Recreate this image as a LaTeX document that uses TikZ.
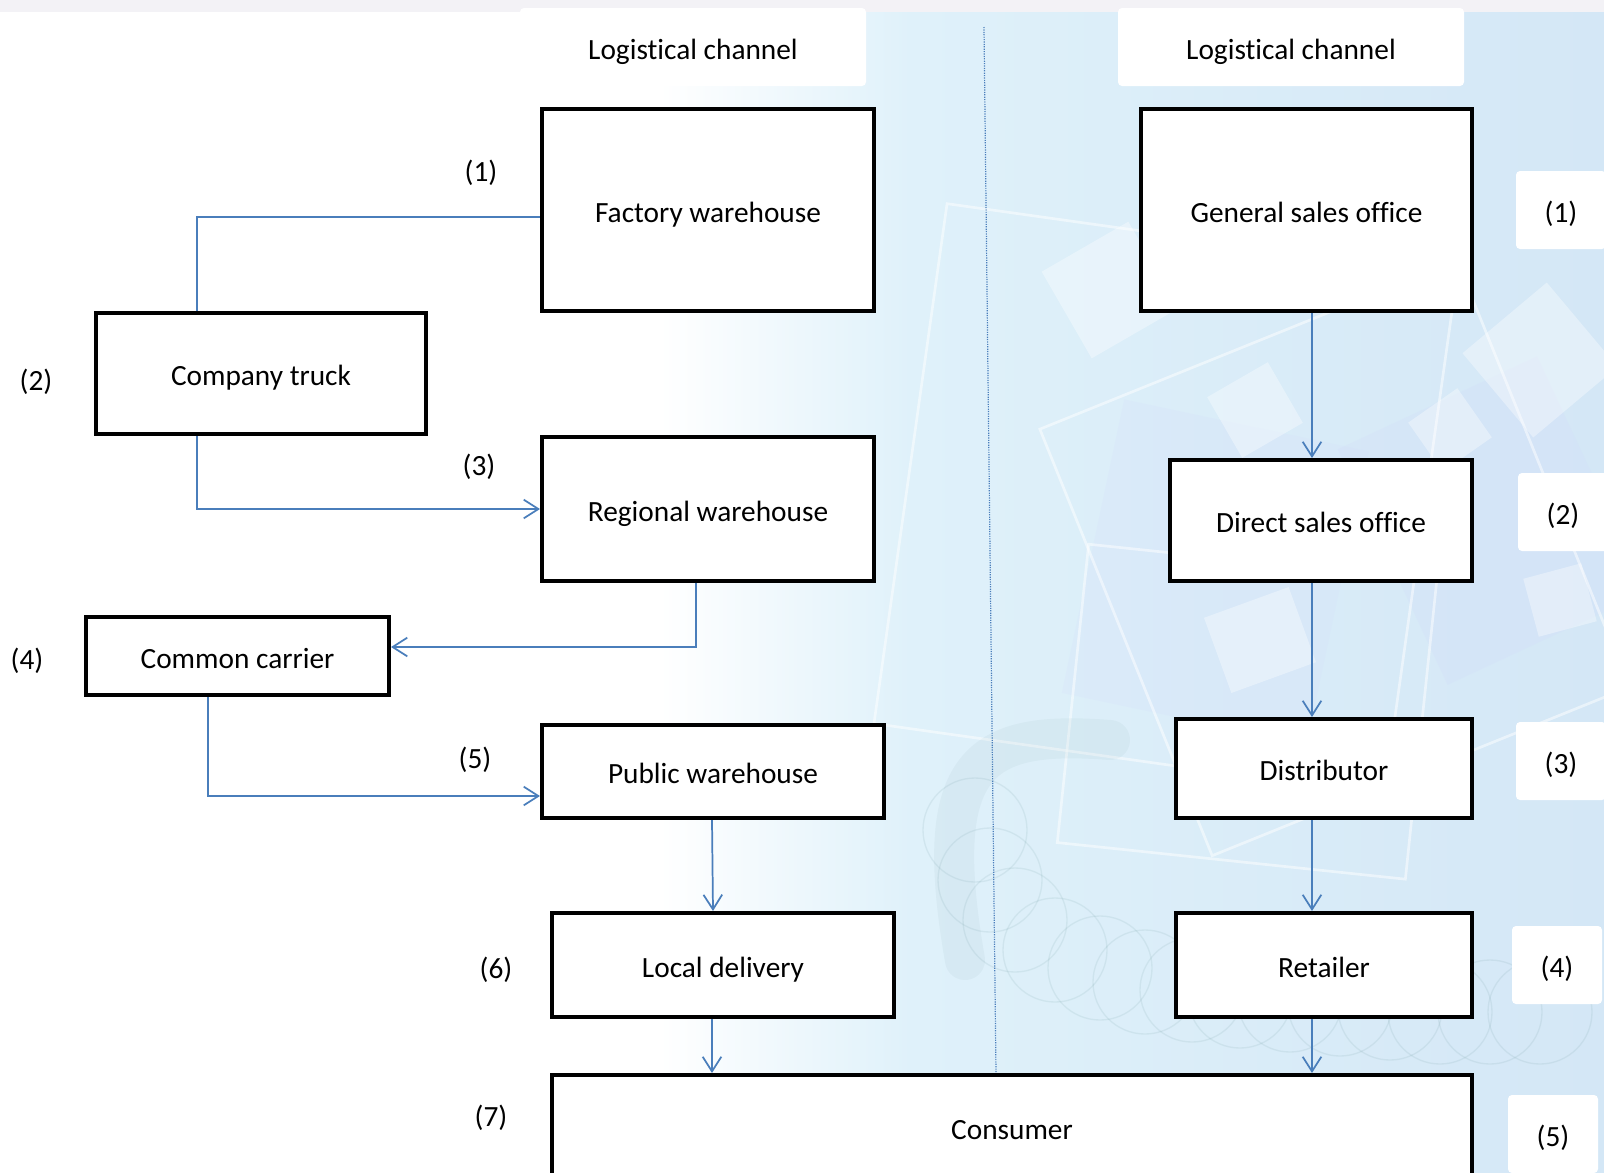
\documentclass[tikz,border=0pt]{standalone}
\usepackage{fontspec}
\setmainfont{Carlito}[Ligatures=NoCommon]
\usetikzlibrary{arrows.meta,calc}
\definecolor{linkblue}{HTML}{4A7EBB}
\definecolor{bgA}{HTML}{DFF1FA}
\definecolor{bgB}{HTML}{D4E7F6}
\definecolor{topband}{HTML}{F3F2F6}
\definecolor{coil}{HTML}{6F9A9E}
\begin{document}
\begin{tikzpicture}[x=0.75pt,y=-0.75pt,
  lbl/.style={font=\fontsize{22}{26}\selectfont, text height=21pt, text depth=3pt},
  box/.style={lbl, draw=black, line width=3pt, fill=white, inner sep=0pt},
  tag/.style={font=\fontsize{22}{26}\selectfont, text height=18pt, text depth=3pt, inner sep=0pt},
  tagbox/.style={lbl, inner sep=0pt, fill=white, rounded corners=3pt,
                 minimum width=90*0.75pt, minimum height=78*0.75pt},
  headbox/.style={lbl, inner sep=0pt, fill=white, rounded corners=3pt,
                  minimum width=346*0.75pt, minimum height=78*0.75pt},
  link/.style={draw=linkblue, line width=1.3pt},
  arr/.style={link, -{Straight Barb[length=11pt,width=14pt,line width=1.3pt]}},
  deco/.style={draw=white, line width=2pt, opacity=0.5},
  patch/.style={fill=white, opacity=0.35},
]
\useasboundingbox (0,0) rectangle (1604,1172);
\clip (0,0) rectangle (1604,1172);

% ---------- backdrop ----------
\fill[white] (0,0) rectangle (1604,1172);
\shade[left color=white, right color=bgA] (660,12) rectangle (910,1172);
\shade[left color=bgA, right color=bgB] (910,12) rectangle (1604,1172);
\fill[topband] (0,0) rectangle (1604,12);

% pale tiles and frames
\fill[bgB!85!blue!60, opacity=0.25, rotate around={25:(1470,520)}] (1380,400) rectangle (1600,660);
\fill[bgB!80!blue!50, opacity=0.2, rotate around={-12:(1200,620)}] (1080,420) rectangle (1330,720);
\draw[deco, rotate around={-8:(1150,520)}] (905,235) rectangle (1420,760);
\draw[deco, rotate around={22:(1330,560)}] (1110,330) rectangle (1560,790);
\draw[deco, rotate around={-6:(1230,730)}] (1070,560) rectangle (1420,860);
\fill[patch, rotate around={40:(1540,360)}] (1485,305) rectangle (1595,415);
\fill[patch, rotate around={30:(1255,410)}] (1220,375) rectangle (1290,445);
\fill[patch, rotate around={35:(1450,430)}] (1420,400) rectangle (1480,460);
\fill[patch, rotate around={30:(1110,290)}] (1060,240) rectangle (1160,340);
\fill[patch, rotate around={20:(1260,640)}] (1215,600) rectangle (1305,680);
\fill[patch, rotate around={15:(1560,600)}] (1530,570) rectangle (1590,630);

% coiled cord
\draw[coil, line width=30pt, opacity=0.07, line cap=round]
  (965,960) .. controls (930,760) and (980,730) .. (1110,740);
\foreach \cx/\cy in {975/830,990/880,1015/920,1055/950,1100/968,1145/982,1192/990,
                     1240/996,1290/1000,1340/1004,1390/1008,1440/1012,1490/1012,1540/1012}
  \draw[coil, line width=1pt, opacity=0.13] (\cx,\cy) circle (52);

% top end of the line dividing the two channels
\coordinate (dtop) at (984,27);

% ---------- column headings ----------
\node[headbox] (hL) at (693,47) {Logistical channel};
\node[headbox] (hR) at (1291,47) {Logistical channel};

% ---------- logistical channel boxes ----------
\node[box, minimum width=332*0.75pt, minimum height=202*0.75pt] (FW)  at (708,210)    {Factory warehouse};
\node[box, minimum width=330*0.75pt, minimum height=121*0.75pt] (CT)  at (261,373.5)  {Company truck};
\node[box, minimum width=332*0.75pt, minimum height=144*0.75pt] (RW)  at (708,509)    {Regional warehouse};
\node[box, minimum width=303*0.75pt, minimum height=78*0.75pt]  (CC)  at (237.5,656)  {Common carrier};
\node[box, minimum width=342*0.75pt, minimum height=93*0.75pt]  (PW)  at (713,771.5)  {Public warehouse};
\node[box, minimum width=342*0.75pt, minimum height=104*0.75pt] (LD)  at (723,965)    {Local delivery};
\node[box, minimum width=920*0.75pt, minimum height=104*0.75pt] (CO)  at (1012,1127)  {Consumer};

% ---------- marketing channel boxes ----------
\node[box, minimum width=331*0.75pt, minimum height=202*0.75pt] (GSO) at (1306.5,210) {General sales office};
\node[box, minimum width=302*0.75pt, minimum height=121*0.75pt] (DSO) at (1321,520.5)  {Direct sales office};
\node[box, minimum width=296*0.75pt, minimum height=99*0.75pt]  (DI)  at (1324,768.5)  {Distributor};
\node[box, minimum width=296*0.75pt, minimum height=104*0.75pt] (RE)  at (1324,965)    {Retailer};

\coordinate (dbot) at ($(CO.north)+(-16,0)$);
\draw[linkblue, line width=0.9pt, dash pattern=on 0.9pt off 0.9pt] (dtop) -- (dbot);

% ---------- step numbers, left ----------
\node[tag] (n1) at (481,171)  {(1)};
\node[tag] (n2) at (36,380)   {(2)};
\node[tag] (n3) at (479,465)  {(3)};
\node[tag] (n4) at (27,659)   {(4)};
\node[tag] (n5) at (475,758)  {(5)};
\node[tag] (n6) at (496,968)  {(6)};
\node[tag] (n7) at (491,1116) {(7)};

% ---------- step numbers, right ----------
\node[tagbox] (m1) at (1561,210)  {(1)};
\node[tagbox] (m2) at (1563,512)  {(2)};
\node[tagbox] (m3) at (1561,761)  {(3)};
\node[tagbox] (m4) at (1557,965)  {(4)};
\node[tagbox] (m5) at (1553,1134) {(5)};

% ---------- connectors, left chain ----------
\draw[link] ($(CT.north west)+(103,0)$) |- ($(FW.west)+(0,7)$);
\draw[arr]  ($(CT.south west)+(103,0)$) |- (RW.west);
\draw[arr]  ($(RW.south)+(-12,0)$) |- ($(CC.east)+(0,-9)$);
\draw[arr]  ($(CC.south west)+(124,0)$) |- ($(PW.west)+(0,24.5)$);
\draw[arr]  ($(PW.south)+(-1,0)$) -- ($(LD.north)+(-10,0)$);
\coordinate (c1) at ($(LD.south)+(-11,0)$);
\draw[arr]  (c1) -- (c1 |- CO.north);

% ---------- connectors, right chain ----------
\coordinate (rx) at (1312,0);
\draw[arr] (GSO.south -| rx) -- (DSO.north -| rx);
\draw[arr] (DSO.south -| rx) -- (DI.north -| rx);
\draw[arr] (DI.south -| rx)  -- (RE.north -| rx);
\draw[arr] (RE.south -| rx)  -- (CO.north -| rx);
\end{tikzpicture}
\end{document}
